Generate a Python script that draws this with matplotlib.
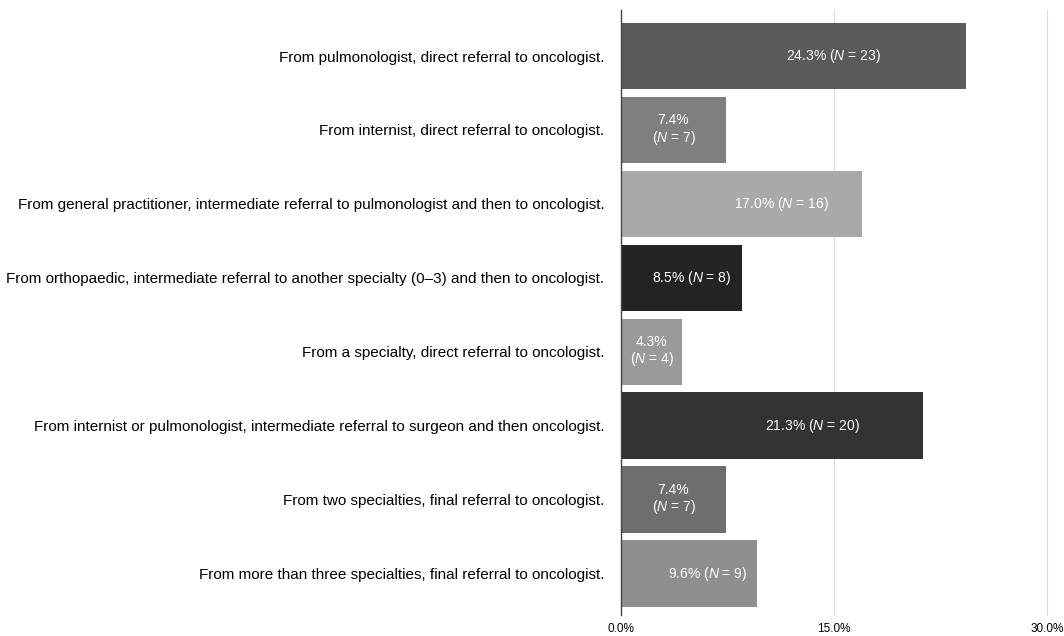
import matplotlib
matplotlib.use("Agg")
import matplotlib.pyplot as plt

plt.rcParams['font.family'] = ['Liberation Sans', 'DejaVu Sans']
plt.rcParams['mathtext.fontset'] = 'custom'
plt.rcParams['mathtext.rm'] = 'Liberation Sans'
plt.rcParams['mathtext.it'] = 'Liberation Sans:italic'

# referral pathways, top to bottom
categories = [
    "From pulmonologist, direct referral to oncologist.",
    "From internist, direct referral to oncologist.",
    "From general practitioner, intermediate referral to pulmonologist and then to oncologist.",
    "From orthopaedic, intermediate referral to another specialty (0\u20133) and then to oncologist.",
    "From a specialty, direct referral to oncologist.",
    "From internist or pulmonologist, intermediate referral to surgeon and then oncologist.",
    "From two specialties, final referral to oncologist.",
    "From more than three specialties, final referral to oncologist.",
]
percent = [24.3, 7.4, 17.0, 8.5, 4.3, 21.3, 7.4, 9.6]
counts = [23, 7, 16, 8, 4, 20, 7, 9]
two_line = [False, True, False, False, True, False, True, False]
colors = ["#5a5a5a", "#7f7f7f", "#a9a9a9", "#232323", "#9a9a9a", "#333333", "#6e6e6e", "#8f8f8f"]
xticks = [0, 15, 30]
xtick_labels = ["0.0%", "15.0%", "30.0%"]

fig = plt.figure(figsize=(10.64, 6.36), dpi=100)
ax = fig.add_axes([0.5836, 0.033, 0.4004, 0.951])

y = list(range(len(categories)))
ax.barh(y, percent, height=0.9, color=colors, zorder=2)

# value labels inside the bars
for yi, p, n, tl in zip(y, percent, counts, two_line):
    if tl:
        ax.text(p / 2, yi, f"{p:.1f}%\n($N$ = {n})", ha="center", va="center",
                color="white", fontsize=10, linespacing=1.1, zorder=3)
    elif p < 15:
        ax.text(p - 0.7, yi, f"{p:.1f}% ($N$ = {n})", ha="right", va="center",
                color="white", fontsize=10, zorder=3)
    else:
        ax.text(p / 2 + 2.8, yi, f"{p:.1f}% ($N$ = {n})", ha="center", va="center",
                color="white", fontsize=10, zorder=3)

ax.set_xlim(0, 30)
ax.set_ylim(7.56, -0.62)
ax.set_yticks(y)
ax.set_yticklabels(categories, fontsize=11)
ax.set_xticks(xticks)
ax.set_xticklabels(xtick_labels, fontsize=8.5)
ax.tick_params(axis="y", length=0, pad=12)
ax.tick_params(axis="x", length=0, pad=6)

for xv in xticks[1:]:
    ax.axvline(xv, color="#dddddd", linewidth=0.8, zorder=0, clip_on=False)
for s in ["top", "right", "bottom"]:
    ax.spines[s].set_visible(False)
ax.spines["left"].set_color("#444444")
ax.spines["left"].set_linewidth(1)
ax.spines["left"].set_zorder(4)

fig.savefig("out.png", dpi=100)
